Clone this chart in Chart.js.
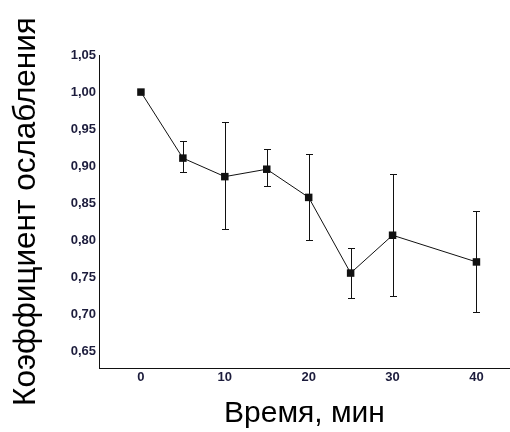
<!DOCTYPE html>
<html>
<head>
<meta charset="utf-8">
<script src="https://cdn.jsdelivr.net/npm/chart.js@4/dist/chart.umd.min.js"></script>
<style>
  html, body { margin: 0; padding: 0; background: #fff; }
  #wrap { width: 510px; height: 432px; }
</style>
</head>
<body>
<div id="wrap"><canvas id="chart"></canvas></div>
<script>
// time, min
const times = [0, 5, 10, 15, 20, 25, 30, 40];
// attenuation coefficient (mean) and error bar ends
const means = [1.000, 0.911, 0.886, 0.896, 0.858, 0.756, 0.807, 0.771];
const upper = [1.000, 0.934, 0.959, 0.923, 0.916, 0.790, 0.890, 0.840];
const lower = [1.000, 0.892, 0.815, 0.873, 0.800, 0.723, 0.725, 0.704];
const xTicks = [0, 10, 20, 30, 40];
const yTicks = [0.65, 0.70, 0.75, 0.80, 0.85, 0.90, 0.95, 1.00, 1.05];

const ink = '#111';
const tickColor = '#1c1c3c';
const family = 'Arial, "Liberation Sans"';

// error bars drawn through the scales
const errorBars = {
  id: 'errorBars',
  afterDatasetsDraw(chart) {
    const { ctx, scales: { x, y } } = chart;
    ctx.save();
    ctx.strokeStyle = ink;
    ctx.lineWidth = 1;
    times.forEach((t, i) => {
      if (upper[i] === lower[i]) return;
      const px = Math.round(x.getPixelForValue(t)) + 0.5;
      const yt = Math.round(y.getPixelForValue(upper[i])) + 0.5;
      const yb = Math.round(y.getPixelForValue(lower[i])) + 0.5;
      ctx.beginPath();
      ctx.moveTo(px, yt); ctx.lineTo(px, yb);
      ctx.moveTo(px - 3.5, yt); ctx.lineTo(px + 3.5, yt);
      ctx.moveTo(px - 3.5, yb); ctx.lineTo(px + 3.5, yb);
      ctx.stroke();
    });
    ctx.restore();
  }
};

new Chart(document.getElementById('chart'), {
  type: 'line',
  data: {
    datasets: [{
      data: times.map((t, i) => ({ x: t, y: means[i] })),
      borderColor: ink,
      borderWidth: 1,
      backgroundColor: ink,
      pointStyle: 'rect',
      pointRadius: 5.3,
      pointBorderWidth: 0,
      tension: 0
    }]
  },
  options: {
    responsive: true, maintainAspectRatio: false,
    animation: false,
    layout: { padding: { top: 55, right: 0, left: 0, bottom: 0 }, autoPadding: false },
    plugins: { legend: { display: false }, tooltip: { enabled: false } },
    scales: {
      x: {
        type: 'linear', min: -5, max: 44,
        afterBuildTicks: s => { s.ticks = xTicks.map(v => ({ value: v })); },
        afterFit: s => { s.height = 64; },
        grid: { display: false, drawTicks: false },
        border: { color: ink, width: 1 },
        ticks: { color: tickColor, padding: 2, font: { family, size: 13, weight: 'bold' } },
        title: {
          display: true, text: 'Время, мин', color: '#000',
          font: { family, size: 30 }, padding: { top: 4, bottom: 0 }
        }
      },
      y: {
        type: 'linear', min: 0.628, max: 1.05,
        afterBuildTicks: s => { s.ticks = yTicks.map(v => ({ value: v })); },
        afterFit: s => { s.width = 99; },
        grid: { display: false, drawTicks: false },
        border: { color: ink, width: 1 },
        ticks: {
          color: tickColor, padding: 3,
          font: { family, size: 13, weight: 'bold' },
          callback: v => v.toFixed(2).replace('.', ',')
        },
        title: {
          display: true, text: 'Коэффициент ослабления', color: '#000',
          font: { family, size: 31.5 }, padding: { top: 7, bottom: 0 }
        }
      }
    }
  },
  plugins: [errorBars]
});
</script>
</body>
</html>
